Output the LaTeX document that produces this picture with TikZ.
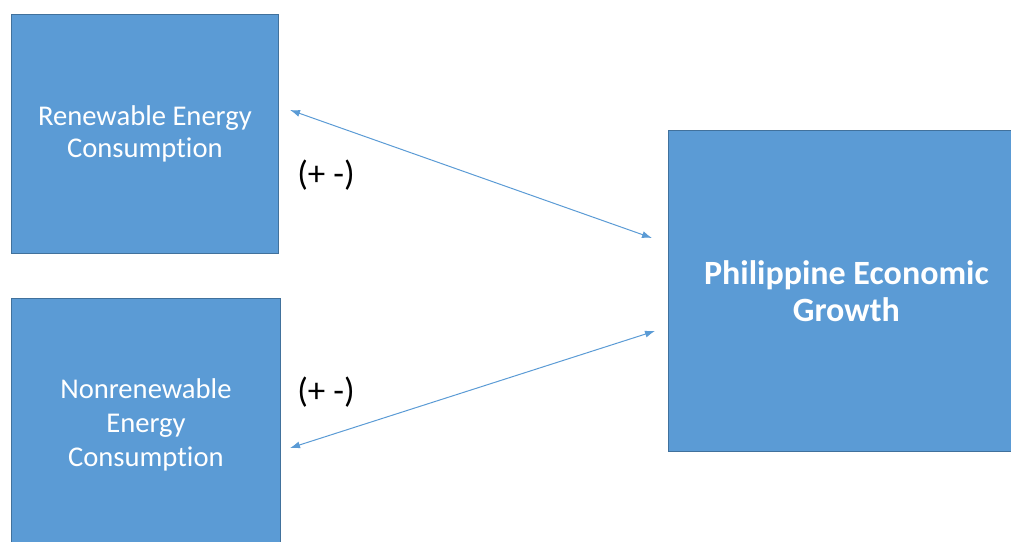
\documentclass[tikz,border=0pt]{standalone}
\usepackage{fontspec}
\setmainfont{Carlito}[Ligatures=NoCommon]
\usetikzlibrary{arrows.meta}
\definecolor{boxblue}{HTML}{5B9BD5}
\definecolor{boxline}{HTML}{41719C}
\tikzstyle{box}=[rectangle,draw=boxline,fill=boxblue,line width=0.8pt,text=white,align=center,anchor=north west,inner sep=0pt]
\tikzstyle{link}=[draw=boxblue,line width=1pt,{Latex[length=10pt,width=7pt]}-{Latex[length=10pt,width=7pt]}]
\tikzstyle{sign}=[font=\fontsize{35}{40}\selectfont,text=black]

\begin{document}
\begin{tikzpicture}[x=1pt,y=-1pt]
    \useasboundingbox (0,0) rectangle (1011,541);
    % boites
    \node[box,minimum width=267pt,minimum height=239pt,font=\fontsize{28.6}{32}\selectfont] (ren) at (11,14) {Renewable Energy\\Consumption};
    \node[box,minimum width=269pt,minimum height=252pt,font=\fontsize{28.6}{34}\selectfont] (nonren) at (11,298) {Nonrenewable\\Energy\\Consumption};
    \node[box,minimum width=356pt,minimum height=321pt,font=\bfseries\fontsize{34}{37}\selectfont] (growth) at (668,130) {Philippine Economic\\Growth};
    % extremites
    \coordinate (r1) at (290,110);
    \coordinate (g1) at (652,238);
    \coordinate (g2) at (655,331);
    \coordinate (n1) at (290,448);
    % fleches
    \path[link] (r1) -- (g1);
    \path[link] (g2) -- (n1);
    \node[sign] (s1) at (326,175) {(+ -)};
    \node[sign] (s2) at (326,392) {(+ -)};
\end{tikzpicture}
\end{document}
